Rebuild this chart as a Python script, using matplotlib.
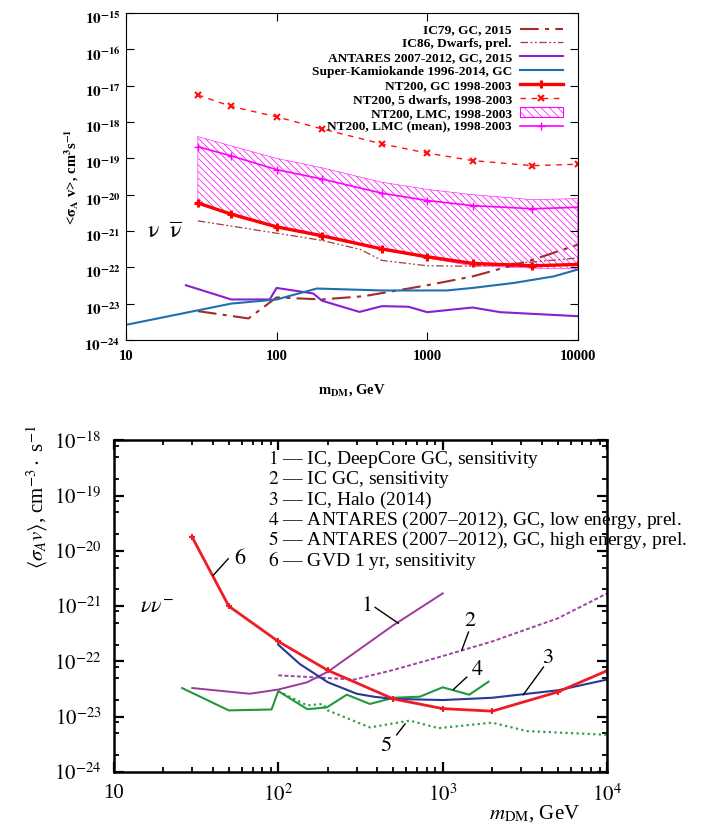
import matplotlib
matplotlib.use('Agg')
import matplotlib.pyplot as plt
import numpy as np
from matplotlib.ticker import LogLocator, FuncFormatter, NullLocator, NullFormatter
from matplotlib.patches import Patch
from matplotlib.transforms import ScaledTranslation

plt.rcParams['font.family'] = ['Liberation Serif', 'DejaVu Serif']
plt.rcParams['mathtext.fontset'] = 'stix'
plt.rcParams['hatch.linewidth'] = 0.5

# ---------------- upper panel: NT200 & co ----------------
nt_mass = [30, 50, 100, 200, 500, 1000, 2000, 5000, 10000]
nt200_gc = [5.9e-21, 2.9e-21, 1.3e-21, 7.4e-22, 3.2e-22, 1.95e-22, 1.28e-22, 1.1e-22, 1.2e-22]
nt200_dwarfs = [5.6e-18, 2.7e-18, 1.4e-18, 6.5e-19, 2.5e-19, 1.4e-19, 8.7e-20, 6.3e-20, 6.9e-20]
nt200_lmc_mean = [2.1e-19, 1.17e-19, 4.9e-20, 2.7e-20, 1.1e-20, 6.9e-21, 5.0e-21, 4.1e-21, 4.5e-21]
nt200_lmc_hi = [4.0e-19, 2.2e-19, 1.0e-19, 5.5e-20, 2.2e-20, 1.4e-20, 1.0e-20, 7.3e-21, 7.8e-21]
nt200_lmc_lo = [6.0e-21, 2.8e-21, 1.25e-21, 7.0e-22, 3.0e-22, 1.8e-22, 1.1e-22, 9.5e-23, 9.0e-23]

ic79_m = [30, 65, 100, 200, 380, 1000, 2000, 5000, 10000]
ic79 = [6.2e-24, 3.9e-24, 1.48e-23, 1.3e-23, 1.6e-23, 3.2e-23, 5.6e-23, 1.6e-22, 4.2e-22]

ic86_m = [30, 100, 200, 360, 500, 1000, 2000, 5000, 10000]
ic86 = [1.9e-21, 8.7e-22, 5.5e-22, 3.1e-22, 1.55e-22, 1.1e-22, 1.07e-22, 1.4e-22, 1.8e-22]

antares_m = [25, 50, 90, 100, 175, 200, 355, 500, 750, 1000, 2000, 3060, 10000]
antares = [3.2e-23, 1.3e-23, 1.3e-23, 2.7e-23, 1.9e-23, 1.2e-23, 5.9e-24, 8.5e-24,
           8.2e-24, 5.8e-24, 7.8e-24, 5.8e-24, 4.5e-24]

sk_m = [10, 50, 100, 185, 500, 1350, 2000, 3750, 6900, 10000]
sk = [2.6e-24, 1.0e-23, 1.3e-23, 2.6e-23, 2.3e-23, 2.3e-23, 2.7e-23, 3.7e-23, 5.6e-23, 8.7e-23]

top_labels = ['IC79, GC, 2015', 'IC86, Dwarfs, prel.', 'ANTARES 2007-2012, GC, 2015',
              'Super-Kamiokande 1996-2014, GC', 'NT200, GC 1998-2003',
              'NT200, 5 dwarfs, 1998-2003', 'NT200, LMC, 1998-2003',
              'NT200, LMC (mean), 1998-2003']

# ---------------- lower panel: GVD sensitivity ----------------
gvd_m = [30, 50, 100, 200, 500, 1000, 2000, 5000, 10000]
gvd = [1.75e-20, 1.0e-21, 2.3e-22, 6.9e-23, 2.1e-23, 1.4e-23, 1.26e-23, 2.8e-23, 6.8e-23]

ic_dc_m = [30, 67, 100, 150, 200, 500, 1000]
ic_dc = [3.3e-23, 2.6e-23, 3.1e-23, 4.2e-23, 6.5e-23, 4.5e-22, 1.7e-21]

ic_gc_m = [100, 200, 290, 500, 1000, 2000, 5000, 10000]
ic_gc = [5.6e-23, 5.0e-23, 4.7e-23, 7.0e-23, 1.25e-22, 2.3e-22, 6.0e-22, 1.7e-21]

halo_m = [100, 135, 200, 300, 380, 500, 1000, 2000, 5000, 10000]
halo = [2.0e-22, 9.0e-23, 4.2e-23, 2.6e-23, 2.3e-23, 2.1e-23, 2.0e-23, 2.2e-23, 3.0e-23, 4.7e-23]

ant_low_m = [26, 50, 91, 100, 150, 197, 261, 361, 500, 725, 1000, 1450, 1900]
ant_low = [3.3e-23, 1.3e-23, 1.35e-23, 2.9e-23, 1.37e-23, 1.47e-23, 2.5e-23, 1.7e-23,
           2.2e-23, 2.3e-23, 3.4e-23, 2.5e-23, 4.3e-23]

ant_high_m = [100, 150, 187, 200, 361, 630, 940, 2000, 3240, 10000]
ant_high = [2.9e-23, 1.6e-23, 1.7e-23, 1.3e-23, 6.4e-24, 8.5e-24, 6.2e-24, 7.8e-24, 5.5e-24, 4.7e-24]

bottom_legend = ['IC, DeepCore GC, sensitivity', 'IC GC, sensitivity', 'IC, Halo (2014)',
                 'ANTARES (2007\u20132012), GC, low energy, prel.',
                 'ANTARES (2007\u20132012), GC, high energy, prel.',
                 'GVD 1 yr, sensitivity']

# curve labels: number, text position, leader line start/end
curve_num = ['1', '2', '3', '4', '5', '6']
num_pos = [(345, 1.0e-21), (1470, 5.2e-22), (4370, 1.15e-22), (1615, 6.9e-23), (452, 2.9e-24), (58.5, 7.1e-21)]
lead_a = [(388, 9.5e-22), (1435, 3.4e-22), (4100, 7.9e-23), (1400, 5.2e-23), (525, 4.7e-24), (40.2, 3.6e-21)]
lead_b = [(537, 4.9e-22), (1306, 1.6e-22), (3090, 2.5e-23), (1160, 3.1e-23), (590, 7.4e-24), (49.6, 7.2e-21)]

fig = plt.figure(figsize=(7.16, 8.23), dpi=100)

# ======== upper plot ========
ax1 = fig.add_axes([0.176, 0.587, 0.631, 0.397])
ax1.set_xscale('log')
ax1.set_yscale('log')

h_ic79, = ax1.plot(ic79_m, ic79, color='#a52a2a', lw=1.5, dashes=(9, 3, 2, 3))
h_ic86, = ax1.plot(ic86_m, ic86, color='#a83a35', lw=0.9, dashes=(6, 2, 1.5, 2, 1.5, 2))
h_ant, = ax1.plot(antares_m, antares, color='#8a1fd0', lw=1.5)
h_sk, = ax1.plot(sk_m, sk, color='#1f6fb0', lw=1.5)
ax1.fill_between(nt_mass, nt200_lmc_lo, nt200_lmc_hi, facecolor='none',
                 edgecolor='#ff00ff', hatch='\\' * 5, linewidth=0.4)
h_lmc = Patch(facecolor='none', edgecolor='#ff00ff', hatch='\\' * 4, linewidth=0.8)
h_mean, = ax1.plot(nt_mass, nt200_lmc_mean, color='#ff00ff', lw=1.2, marker='+', ms=6, mew=1)
h_dw, = ax1.plot(nt_mass, nt200_dwarfs, color='#ff1010', lw=1.0, dashes=(4, 4),
                 marker='x', ms=4, mew=1.5)
h_gc, = ax1.plot(nt_mass, nt200_gc, color='#ff0000', lw=2.4, marker='+', ms=6, mew=2.2)

ax1.set_xlim(10, 10000)
ax1.set_ylim(1e-24, 1e-15)
ax1.xaxis.set_major_locator(LogLocator(base=10, numticks=10))
ax1.yaxis.set_major_locator(LogLocator(base=10, numticks=20))
ax1.xaxis.set_minor_locator(NullLocator())
ax1.yaxis.set_minor_locator(NullLocator())
ax1.xaxis.set_major_formatter(FuncFormatter(lambda v, p: '%d' % round(v)))
ax1.yaxis.set_major_formatter(FuncFormatter(lambda v, p: r'$\mathbf{10^{%d}}$' % round(np.log10(v))))
ax1.tick_params(axis='y', labelsize=11, pad=4)
ax1.tick_params(axis='x', labelsize=10.5, pad=7)
ax1.tick_params(which='both', direction='in', top=True, right=True, length=6, width=0.8)
for lab in ax1.get_xticklabels():
    lab.set_fontweight('bold')
# gnuplot puts the exponent labels a bit lower than the tick
shift_down = ScaledTranslation(0, -3 / 72, fig.dpi_scale_trans)
for t in ax1.yaxis.get_major_ticks():
    t.label1.set_transform(t.label1.get_transform() + shift_down)
for s in ax1.spines.values():
    s.set_linewidth(0.8)

ax1.set_xlabel(r'$\mathbf{m_{DM}}$, GeV', fontsize=10.5, fontweight='bold')
ax1.xaxis.set_label_coords(0.5, -0.13)
ax1.set_ylabel(r'<$\mathbf{\sigma_A}$ v>, cm$^{\mathbf{3}}$s$^{\mathbf{-1}}$', fontsize=10.5, fontweight='bold')
ax1.yaxis.set_label_coords(-0.10, 0.5)

ax1.text(13.7, 6.5e-22, r'$\mathrm{\nu}\ \ \overline{\mathrm{\nu}}$', fontsize=17, ha='left', va='baseline')

leg = ax1.legend([h_ic79, h_ic86, h_ant, h_sk, h_gc, h_dw, h_lmc, h_mean], top_labels,
                 loc='upper right', bbox_to_anchor=(0.99, 1.0), frameon=False, markerfirst=False,
                 prop={'weight': 'bold', 'size': 9.6}, labelspacing=0.12, handlelength=3.2,
                 handletextpad=0.6, borderpad=0.3, alignment='right')

# ======== lower plot ========
ax2 = fig.add_axes([0.159, 0.062, 0.689, 0.403])
ax2.set_xscale('log')
ax2.set_yscale('log')

ax2.plot(ant_high_m, ant_high, color='#2ca050', lw=1.6, ls=(0, (1, 1.5)))
ax2.plot(ant_low_m, ant_low, color='#1e9a3c', lw=1.5)
ax2.plot(ic_dc_m, ic_dc, color='#9b3a9b', lw=1.4)
ax2.plot(ic_gc_m, ic_gc, color='#a040a8', lw=1.4, ls=(0, (2, 1.2)))
ax2.plot(halo_m, halo, color='#27379a', lw=1.5)
ax2.plot(gvd_m, gvd, color='#ee1c25', lw=2.0, marker='+', ms=5, mew=1.5)

for num, tp, a, b in zip(curve_num, num_pos, lead_a, lead_b):
    ax2.plot([a[0], b[0]], [a[1], b[1]], color='black', lw=1.0)
    ax2.text(tp[0], tp[1], r'$\mathit{%s}$' % num, fontsize=16, ha='center', va='center')

ax2.text(14.4, 7.4e-22, r'$\nu\nu^{-}$', fontsize=16, ha='left', va='baseline')

for i, txt in enumerate(bottom_legend):
    ax2.text(0.312, 0.93 - i * 0.0617, '$\\mathit{%d}$ \u2014 %s' % (i + 1, txt),
             transform=ax2.transAxes, fontsize=14, ha='left', va='baseline')

ax2.set_xlim(10, 10000)
ax2.set_ylim(1e-24, 1e-18)
ax2.xaxis.set_major_locator(LogLocator(base=10, numticks=10))
ax2.xaxis.set_minor_locator(LogLocator(base=10, subs=np.arange(2, 10), numticks=20))
ax2.yaxis.set_major_locator(LogLocator(base=10, numticks=20))
ax2.yaxis.set_minor_locator(LogLocator(base=10, subs=(2, 5, 8), numticks=20))
ax2.xaxis.set_minor_formatter(NullFormatter())
ax2.yaxis.set_minor_formatter(NullFormatter())
ax2.xaxis.set_major_formatter(FuncFormatter(
    lambda v, p: '10' if round(np.log10(v)) == 1 else r'$10^{%d}$' % round(np.log10(v))))
ax2.yaxis.set_major_formatter(FuncFormatter(lambda v, p: r'$10^{%d}$' % round(np.log10(v))))
ax2.tick_params(which='both', direction='in', top=True, right=True, labelsize=15)
ax2.tick_params(which='major', length=7, width=1.6, pad=9)
ax2.tick_params(which='minor', length=3.5, width=1.3)
for s in ax2.spines.values():
    s.set_linewidth(1.8)

ax2.set_xlabel(r'$m_{\rm DM}$, GeV', fontsize=15, ha='right')
ax2.xaxis.set_label_coords(0.945, -0.093)
ax2.set_ylabel(r'$\langle\sigma_A v\rangle$, cm$^{-3}\cdot$ s$^{-1}$', fontsize=15)
ax2.yaxis.set_label_coords(-0.13, 0.83)

fig.savefig('out.png', dpi=100)
